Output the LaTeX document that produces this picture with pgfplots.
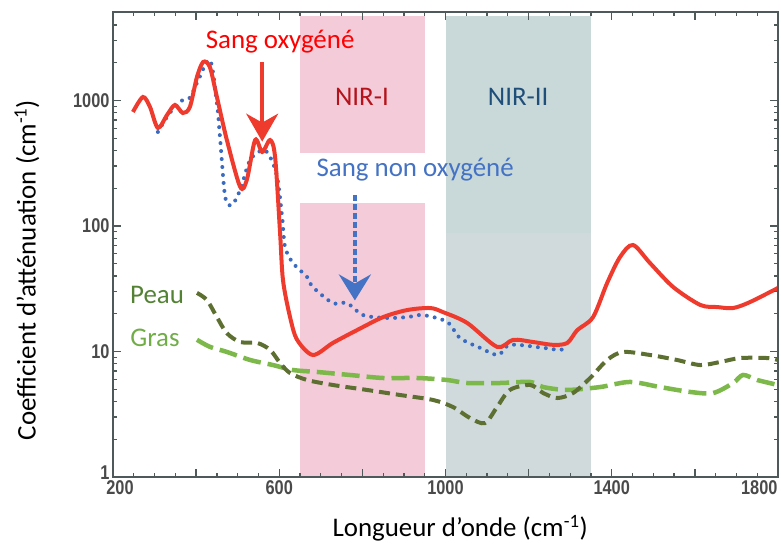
\documentclass[border=0pt]{standalone}
\usepackage{fontspec}
\setmainfont{Carlito}
\newfontfamily\tickfont[FakeStretch=0.82]{Liberation Sans Bold}
\usepackage{pgfplots}
\pgfplotsset{compat=1.18}
\usetikzlibrary{arrows.meta}

\definecolor{redline}{HTML}{EE3B2E}
\definecolor{blueline}{HTML}{3B6BC0}
\definecolor{peau}{HTML}{5E7031}
\definecolor{gras}{HTML}{7DB84A}
\definecolor{nirone}{HTML}{F3CBD9}
\definecolor{nirtwo}{HTML}{C9D9DA}
\definecolor{nirtwob}{HTML}{D0DADD}
\definecolor{axisgray}{HTML}{4F5959}
\definecolor{ticktext}{HTML}{4A4A4A}
\definecolor{txtnirone}{HTML}{B5121B}
\definecolor{txtnirtwo}{HTML}{1F4E79}
\definecolor{txtblue}{HTML}{4472C4}
\definecolor{txtpeau}{HTML}{548235}
\definecolor{txtgras}{HTML}{70AD47}

\begin{document}
\begin{tikzpicture}
\begin{axis}[
  scale only axis,
  width=665bp, height=465bp,
  ymode=log,
  xmin=200, xmax=1800,
  ymin=1, ymax=5070,
  axis on top,
  axis line style={axisgray, line width=1.3bp},
  every tick/.style={axisgray, line width=1.3bp},
  major tick length=8bp,
  minor tick length=4bp,
  xtick={200,400,...,1800},
  xticklabels={\hspace{14bp}200,,600,,1000,,1400,},
  extra x ticks={1800},
  extra x tick labels={1800},
  extra x tick style={xticklabel style={anchor=north east, xshift=3bp}},
  minor x tick num=3,
  ytick={1,10,100,1000},
  yticklabels={\raisebox{9bp}{1},10,100,1000},
  minor ytick={2,3,4,5,6,7,8,9,20,30,40,50,60,70,80,90,200,300,400,500,600,700,800,900,2000,3000,4000},
  tick label style={font=\tickfont\fontsize{20}{20}\selectfont, text=ticktext},
  /pgf/number format/assume math mode=true,
  xlabel={Longueur d’onde (cm\textsuperscript{-1})},
  ylabel={Coefficient d’atténuation (cm\textsuperscript{-1})},
  label style={font=\fontsize{27}{27}\selectfont},
  xlabel style={at={(axis description cs:0.522,-0.1097)}, anchor=center},
  ylabel style={at={(axis description cs:-0.1293,0.445)}, anchor=center},
]

% bandes NIR-I et NIR-II
\addplot[draw=none, fill=nirone] coordinates {(650,1) (950,1) (950,4750) (650,4750)};
\addplot[draw=none, fill=nirtwob] coordinates {(1000,1) (1350,1) (1350,88) (1000,88)};
\addplot[draw=none, fill=nirtwo] coordinates {(1000,88) (1350,88) (1350,4750) (1000,4750)};
\addplot[draw=none, fill=white] coordinates {(648,152) (1000,152) (1000,382) (648,382)};

% Gras
\addplot[gras, line width=4.5bp, dash pattern=on 18bp off 7bp, smooth, tension=0.5] coordinates {
(402,12.4) (433,10.9) (474,9.92) (530,8.56) (585,7.80) (633,7.12) (691,6.87)
(770,6.50) (850,6.15) (932,6.15) (1004,5.93) (1052,5.61) (1131,5.61) (1204,5.72)
(1235,5.21) (1293,4.94) (1372,5.21) (1444,5.72) (1516,5.21) (1589,4.76) (1644,4.67)
(1692,5.61) (1716,6.50) (1750,5.93) (1800,5.41)};

% Peau
\addplot[peau, line width=4bp, dash pattern=on 11bp off 6bp, smooth, tension=0.5] coordinates {
(402,29.3) (426,25.7) (450,18.8) (474,14.0) (506,11.9) (547,11.7) (578,10.3)
(602,8.10) (626,6.74) (667,5.93) (729,5.41) (811,4.94) (891,4.50) (970,4.11)
(1018,3.61) (1059,2.95) (1095,2.69) (1124,3.61) (1155,4.94) (1204,5.41) (1235,4.67)
(1269,4.26) (1307,4.67) (1348,6.15) (1389,8.56) (1427,9.91) (1492,9.38) (1557,8.56)
(1613,7.80) (1661,8.25) (1709,8.87) (1774,8.87) (1800,8.56)};

% Sang non oxygene
\addplot[blueline, line width=4bp, line cap=round, dash pattern=on 0bp off 8bp, smooth, tension=0.5] coordinates {
(308,561) (330,740) (350,900) (368,1009) (385,1050) (402,1378) (433,2103) (450,955)
(458,484) (470,170) (486,147) (506,194) (530,336) (561,403) (578,355) (595,246)
(607,118) (614,68) (633,50.7) (667,39.2) (681,32.6) (729,24.3) (763,24.3) (802,19.5)
(859,18.5) (908,18.8) (946,19.5) (1004,17.2) (1035,12.8) (1083,10.7) (1127,9.38)
(1155,11.3) (1235,10.7) (1276,10.3) (1293,10.9)};

% Sang oxygene
\addplot[redline, line width=4bp, smooth, tension=0.5] coordinates {
(248,810) (272,1066) (289,888) (308,604) (330,766) (349,921) (368,795) (385,888)
(402,1539) (417,2027) (433,1849) (450,1066) (474,484) (506,205) (522,233) (542,484)
(559,389) (578,484) (590,355) (602,88) (609,37) (626,18.8) (643,12.4) (681,9.38)
(729,11.7) (787,14.8) (850,18.8) (908,21.4) (963,22.2) (994,20.6) (1052,16.9)
(1124,10.9) (1163,12.4) (1211,11.9) (1259,11.3) (1293,11.7) (1317,14.8) (1355,18.8)
(1389,35.2) (1420,56.6) (1451,70.6) (1492,50.7) (1548,32.6) (1613,23.5) (1654,22.6)
(1692,22.2) (1733,24.8) (1800,32.1)};

% fleches
\draw[redline, line width=3.5bp, -{Stealth[length=28bp, width=32bp, inset=9bp]}]
  (axis cs:559,2028) -- (axis cs:559,470);
\draw[txtblue, line width=4bp, dash pattern=on 6bp off 3bp,
  -{Stealth[length=26bp, width=32bp, inset=9bp]}]
  (axis cs:782,177) -- (axis cs:782,25.5);

% textes
\node[text=red, font=\fontsize{27}{27}\selectfont] at (axis cs:602,2925) {Sang oxygéné};
\node[text=txtnirone, font=\fontsize{27}{27}\selectfont] at (axis cs:799,1066) {NIR-I};
\node[text=txtnirtwo, font=\fontsize{27}{27}\selectfont] at (axis cs:1175,1066) {NIR-II};
\node[text=txtblue, font=\fontsize{27}{27}\selectfont] at (axis cs:927,279) {Sang non oxygéné};
\node[text=txtpeau, font=\fontsize{27}{27}\selectfont] at (axis cs:306,28.2) {Peau};
\node[text=txtgras, font=\fontsize{27}{27}\selectfont] at (axis cs:301,12.8) {Gras};
\end{axis}
\path (current axis.south west) ++(-113bp,-70bp) coordinate (bbA);
\path (current axis.north east) ++(3bp,12bp) coordinate (bbB);
\pgfresetboundingbox
\path[use as bounding box] (bbA) rectangle (bbB);
\end{tikzpicture}
\end{document}
